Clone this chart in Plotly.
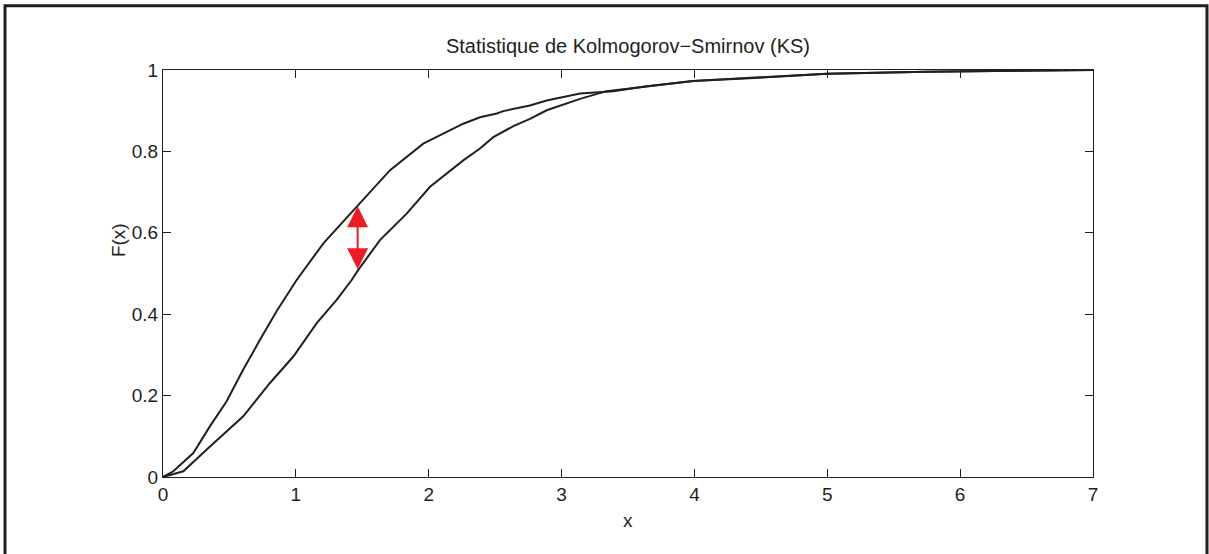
import plotly.graph_objects as go

x_upper = [0, 0.078, 0.228, 0.354, 0.479, 0.604, 0.730, 0.856, 0.931, 1.006, 1.207, 1.458,
           1.709, 1.959, 2.260, 2.386, 2.512, 2.561, 2.762, 2.888, 3.139, 3.389, 3.64, 3.99,
           4.49, 4.64, 5.0, 5.75, 6.5, 7.0]
y_upper = [0, 0.014, 0.059, 0.125, 0.186, 0.264, 0.337, 0.408, 0.446, 0.484, 0.574, 0.664,
           0.754, 0.819, 0.868, 0.884, 0.893, 0.899, 0.913, 0.925, 0.942, 0.948, 0.960, 0.973,
           0.981, 0.984, 0.991, 0.996, 0.9988, 1.0]

x_lower = [0, 0.153, 0.354, 0.604, 0.805, 0.981, 1.157, 1.307, 1.420, 1.470, 1.633, 1.834,
           2.010, 2.260, 2.386, 2.486, 2.637, 2.762, 2.888, 3.139, 3.339, 3.64, 3.99, 4.49,
           4.64, 5.0, 5.75, 6.5, 7.0]
y_lower = [0, 0.014, 0.075, 0.149, 0.231, 0.296, 0.378, 0.435, 0.484, 0.509, 0.582, 0.647,
           0.713, 0.778, 0.807, 0.835, 0.862, 0.880, 0.901, 0.929, 0.948, 0.960, 0.973, 0.981,
           0.984, 0.991, 0.996, 0.9988, 1.0]

# KS distance arrow
ks_x = 1.465
ks_y_low = 0.507
ks_y_high = 0.665

x_ticks = [0, 1, 2, 3, 4, 5, 6, 7]
y_ticks = [0, 0.2, 0.4, 0.6, 0.8, 1]
y_ticklabels = ["0", "0.2", "0.4", "0.6", "0.8", "1"]

line_col = "#231f20"
font_fam = "Liberation Sans, Arial, sans-serif"
FS = 19

fig = go.Figure()
fig.add_trace(go.Scatter(x=x_upper, y=y_upper, mode="lines",
                         line=dict(color=line_col, width=2), showlegend=False, hoverinfo="skip"))
fig.add_trace(go.Scatter(x=x_lower, y=y_lower, mode="lines",
                         line=dict(color=line_col, width=2), showlegend=False, hoverinfo="skip"))

fig.add_annotation(x=ks_x, y=ks_y_high, ax=ks_x, ay=ks_y_low, xref="x", yref="y",
                   axref="x", ayref="y", text="", showarrow=True,
                   arrowhead=2, startarrowhead=2, arrowside="end+start",
                   arrowsize=2.1, startarrowsize=2.1, arrowwidth=2, arrowcolor="#ed1c24")

W, H = 1209, 554
L, R, T, B = 163, 116, 69.5, 76.5
pw, ph = W - L - R, H - T - B

def px2paper_x(p):
    return (p - L) / pw

def py2paper_y(p):
    return (H - B - p) / ph

fig.add_shape(type="rect", xref="paper", yref="paper",
              x0=px2paper_x(5), x1=px2paper_x(1207), y0=py2paper_y(580), y1=py2paper_y(5),
              line=dict(color=line_col, width=3), fillcolor="rgba(0,0,0,0)", layer="above")

# axis titles
fig.add_annotation(x=px2paper_x(628), y=py2paper_y(521), xref="paper", yref="paper",
                   text="x", showarrow=False, xanchor="center", yanchor="middle",
                   font=dict(family=font_fam, size=FS, color=line_col))
fig.add_annotation(x=px2paper_x(118), y=py2paper_y(240), xref="paper", yref="paper",
                   text="F(x)", showarrow=False, xanchor="center", yanchor="middle", textangle=-90,
                   font=dict(family=font_fam, size=FS, color=line_col))

axis_common = dict(showline=True, linecolor=line_col, linewidth=1.3, mirror="allticks",
                   ticks="inside", ticklen=8, tickcolor=line_col, tickwidth=1,
                   showgrid=False, zeroline=False,
                   tickfont=dict(family=font_fam, size=FS, color=line_col))

fig.update_xaxes(range=[0, 7], tickvals=x_ticks, ticktext=[str(v) for v in x_ticks], **axis_common)
fig.update_yaxes(range=[0, 1], tickvals=y_ticks, ticktext=y_ticklabels, **axis_common)

fig.update_layout(
    width=W, height=H,
    margin=dict(l=L, r=R, t=T, b=B),
    paper_bgcolor="white", plot_bgcolor="white",
    title=dict(text="Statistique de Kolmogorov\u2212Smirnov (KS)", x=(L + pw / 2) / W, xanchor="center",
               y=1 - 46 / H, yanchor="middle",
               font=dict(family=font_fam, size=20, color=line_col)),
)

fig.write_html("out.html", config={"displayModeBar": False},
               post_script="document.body.style.margin='0';document.body.style.overflow='hidden';")
